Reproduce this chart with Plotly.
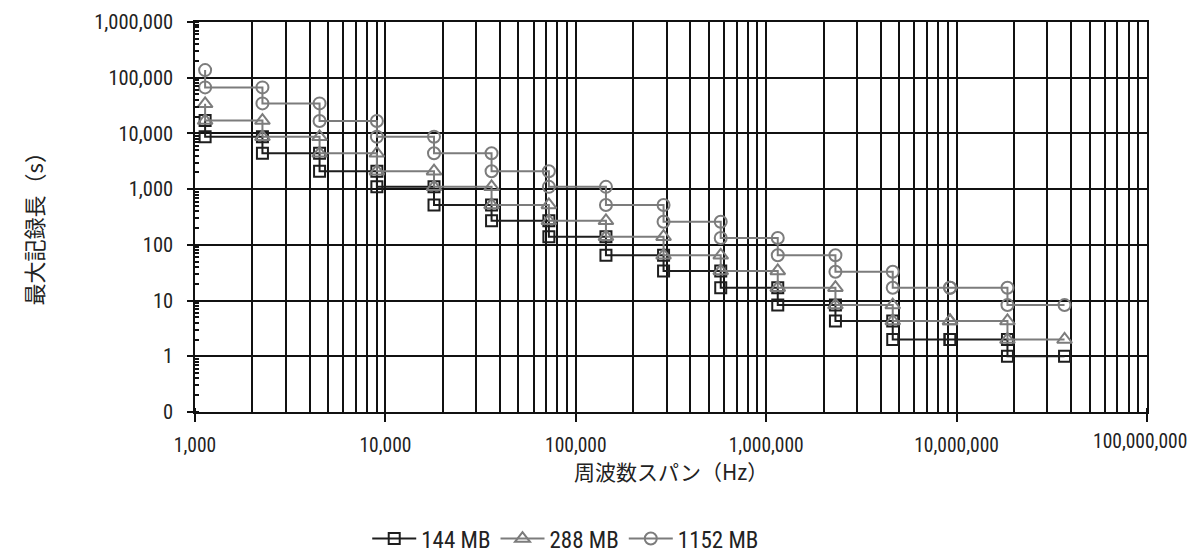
import plotly.graph_objects as go

# Frequency span at each step of the record-length curves (Hz)
spans_hz = [1130, 2260, 4510, 9020, 18000, 36100, 72200, 144000,
            289000, 577000, 1150000, 2310000, 4620000, 9240000,
            18500000, 36900000]

# Maximum record length (s): first entry is the level before the first
# drop, each following entry is the level reached at the next span.
rec_144mb = [17000, 8700, 4400, 2100, 1100, 520, 270, 140, 65, 34, 17,
             8.3, 4.3, 2.0, 2.0, 1.0]
rec_288mb = [34000, 17000, 8700, 4400, 2100, 1100, 520, 270, 140, 65, 34,
             17, 8.3, 4.3, 4.3, 2.0]
rec_1152mb = [137000, 67000, 34600, 16700, 8700, 4400, 2100, 1100, 520,
              260, 133, 65, 33, 17, 17, 8.3]

series_names = ["144 MB", "288 MB", "1152 MB"]
x_title = "周波数スパン（Hz）"
y_title = "最大記録長（s）"
x_last_label = "100,000,000"   # right-most span label, kept inside the page

LATIN = "Roboto Condensed, Liberation Sans Narrow, sans-serif"
CJK = "Noto Sans CJK JP, sans-serif"


def step_points(spans, levels):
    """Stair-step path: drop vertically at each span, then run flat."""
    xs, ys = [], []
    for k in range(len(spans) - 1):
        xs += [spans[k], spans[k]]
        ys += [levels[k], levels[k + 1]]
    xs.append(spans[-1])
    ys.append(levels[-1])
    return xs, ys


styles = [
    dict(color="#1e1e1e", symbol="square-open", size=11),
    dict(color="#7c7c7c", symbol="triangle-up-open", size=13),
    dict(color="#7c7c7c", symbol="circle-open", size=12),
]

fig = go.Figure()
for name, levels, st in zip(series_names, [rec_144mb, rec_288mb, rec_1152mb], styles):
    xs, ys = step_points(spans_hz, levels)
    fig.add_trace(go.Scatter(
        x=xs, y=ys, name=name, mode="lines+markers",
        line=dict(color=st["color"], width=2),
        marker=dict(symbol=st["symbol"], size=st["size"],
                    color=st["color"], line=dict(color=st["color"], width=2)),
    ))

grid = "#111111"
fig.update_layout(
    width=1191, height=553,
    margin=dict(l=195, r=44, t=22, b=141),
    paper_bgcolor="white", plot_bgcolor="white",
    font=dict(family=LATIN, size=20.5, color="#222"),
    showlegend=True,
    legend=dict(orientation="h", xref="container", yref="container",
                x=0.475, y=0.026, xanchor="center", yanchor="middle",
                font=dict(family=LATIN, size=23, color="#222"),
                itemwidth=44, tracegroupgap=0),
    annotations=[
        dict(text=x_title, xref="paper", yref="paper", x=0.5, y=-0.152,
             xanchor="center", yanchor="middle", showarrow=False,
             font=dict(family=CJK, size=21, color="#222")),
        dict(text=y_title, xref="paper", yref="paper", x=-0.170, y=0.484,
             xanchor="center", yanchor="middle", showarrow=False,
             textangle=-90, font=dict(family=CJK, size=22, color="#222")),
        dict(text=x_last_label, xref="paper", yref="paper", x=1, y=0,
             xanchor="right", yanchor="middle", xshift=42, yshift=-29.5,
             showarrow=False,
             font=dict(family=LATIN, size=19.5, color="#222")),
    ],
)
fig.update_xaxes(
    type="log", range=[2.9999, 8.0001], dtick=1, tickformat=",.0f",
    tickfont=dict(size=19.5), labelalias={x_last_label: " "},
    showgrid=True, gridcolor=grid, gridwidth=1.5,
    showline=True, linecolor=grid, linewidth=1.5, mirror=True,
    ticks="outside", ticklen=8, tickcolor=grid, tickwidth=1.5,
    ticklabelstandoff=7, automargin=False,
    minor=dict(dtick="D1", showgrid=True, gridcolor=grid, gridwidth=1.5,
               ticks="inside", ticklen=4, tickcolor=grid),
    zeroline=False,
)
fig.update_yaxes(
    type="log", range=[-1, 6], dtick=1, tickformat=",.0f",
    showgrid=True, gridcolor=grid, gridwidth=1.5,
    showline=True, linecolor=grid, linewidth=1.5, mirror=True,
    ticks="outside", ticklen=6, tickcolor=grid, tickwidth=1.5,
    ticklabelstandoff=10, automargin=False,
    minor=dict(dtick="D1", showgrid=False, ticks="inside", ticklen=4,
               tickcolor=grid),
    zeroline=False,
)

fig.write_html("out.html")
